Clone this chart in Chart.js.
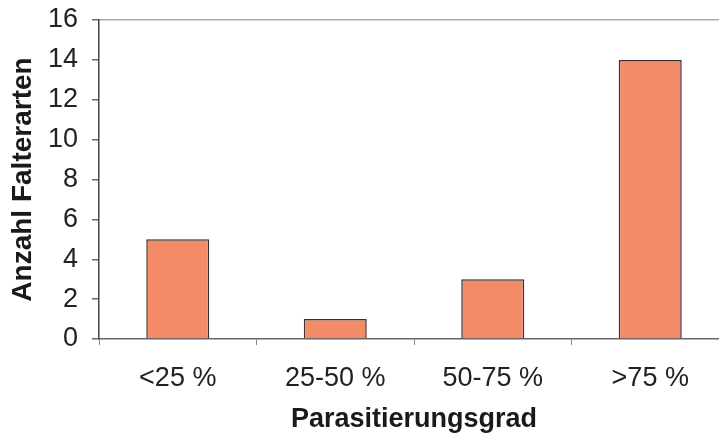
<!DOCTYPE html>
<html>
<head>
<meta charset="utf-8">
<script src="https://cdn.jsdelivr.net/npm/chart.js@4.4.1/dist/chart.umd.min.js"></script>
<style>
  html, body { margin: 0; padding: 0; background: #fff; overflow: hidden; }
  #wrap { position: absolute; left: 0; top: 0; width: 730px; height: 437px; }
</style>
</head>
<body>
<div id="wrap"><canvas id="grafico"></canvas></div>
<script>
// Daten
const kategorien = ['<25 %', '25-50 %', '50-75 %', '>75 %'];
const anzahl = [5, 1, 3, 14];
const yMin = 0, yMax = 16, yStep = 2;

const schrift = "'Liberation Sans', Arial, sans-serif";

var ctx = document.getElementById('grafico').getContext('2d');

var grafico = new Chart(ctx, {
  type: 'bar',
  data: {
    labels: kategorien,
    datasets: [{
      data: anzahl,
      backgroundColor: '#F48B68',
      borderColor: '#333333',
      borderWidth: 1.5,
      barPercentage: 0.4,
      categoryPercentage: 1
    }]
  },
  options: {
    responsive: true,
    maintainAspectRatio: false,
    animation: false,
    layout: { padding: { top: 20, right: 1, left: 0, bottom: 0 } },
    plugins: { legend: { display: false }, tooltip: { enabled: false } },
    scales: {
      x: {
        grid: {
          drawOnChartArea: false,
          drawTicks: true,
          tickLength: 6,
          tickColor: '#888888'
        },
        border: { color: '#666666', width: 1.5 },
        ticks: {
          color: '#222222',
          padding: 17,
          font: { family: schrift, size: 27 }
        },
        title: {
          display: true,
          text: 'Parasitierungsgrad',
          color: '#1a1a1a',
          padding: { top: 1, bottom: 1 },
          font: { family: schrift, size: 27, weight: 'bold' }
        },
        afterFit: function (scale) {
          scale.height = 98;
          scale.paddingLeft = 0;
          scale.paddingRight = 0;
        }
      },
      y: {
        min: yMin,
        max: yMax,
        grid: {
          color: function (c) { return c.tick && c.tick.value === yMax ? '#aaaaaa' : 'rgba(0,0,0,0)'; },
          lineWidth: 1.5,
          tickLength: 7,
          tickColor: '#666666'
        },
        border: { color: '#444444', width: 1.5 },
        ticks: {
          stepSize: yStep,
          color: '#222222',
          padding: 14,
          font: { family: schrift, size: 27 }
        },
        title: {
          display: true,
          text: 'Anzahl Falterarten',
          color: '#1a1a1a',
          padding: { top: 6, bottom: 6 },
          font: { family: schrift, size: 28, weight: 'bold' }
        },
        afterFit: function (scale) {
          scale.width = 99;
          scale.paddingTop = 0;
          scale.paddingBottom = 0;
        }
      }
    }
  }
});
</script>
</body>
</html>
